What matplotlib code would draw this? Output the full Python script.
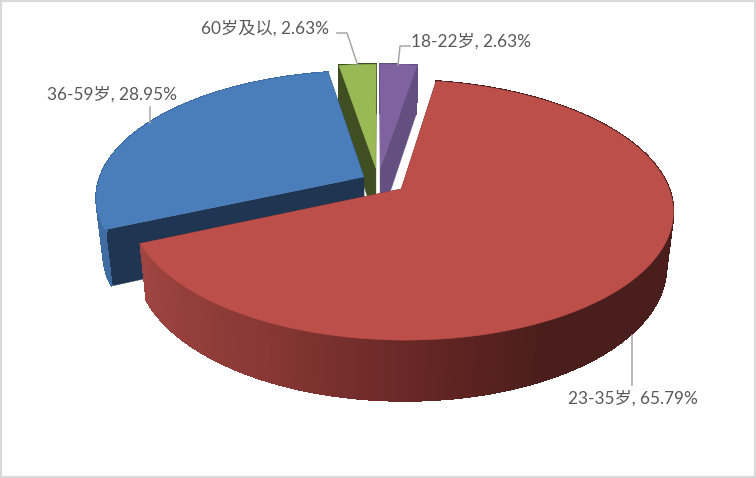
import numpy as np
import matplotlib
matplotlib.use("Agg")
import matplotlib.pyplot as plt
from matplotlib.colors import to_rgb

### Data -----------------------------------------------------------------------

categories = ["18-22岁", "23-35岁", "36-59岁", "60岁及以"]
shares = [2.63, 65.79, 28.95, 2.63]

### Style / layout -------------------------------------------------------------

explode = [0.103, 0.11, 0.061, 0.103]
top_colors = ["#7F63A1", "#BC4F4A", "#4A7EBB", "#98B954"]
cut_colors = ["#634F80", "#4A1E1C", "#203552", "#3F4F22"]
# wall colour stops per wedge: angle (deg clockwise from top), colour
wall_stops = [
    ([0, 360], ["#634F80", "#634F80"]),
    ([0, 154, 174, 207, 250], ["#4A1E1C", "#4A1E1C", "#622523", "#883835", "#A24743"]),
    ([0, 360], ["#3F6CA3", "#3F6CA3"]),
    ([0, 360], ["#3F4F22", "#3F4F22"]),
]
draw_order = [0, 3, 2, 1]

cx, cy = 378, 180.5  # screen position of the pie centre
radius_x, radius_y = 265, 124
persp_y, persp_z = 0.16, 0.024
thickness = 55.5

label_pos = [(411, 41), (568, 398), (47, 94), (201, 28)]
leaders = [
    ([410, 400, 398], [46, 46, 65]),
    ([632, 632], [385, 335]),
    ([150, 150], [107, 123]),
    ([337, 347, 358], [33, 33, 66]),
]
text_color = "#595959"
leader_color = "#A6A6A6"
border_color = "#D9D9D9"

plt.rcParams["font.family"] = ["Lato", "Noto Sans CJK SC", "DejaVu Sans"]


def project(ang, r, ex, ey, d):
    # ang in degrees clockwise from the top, d = 0 on top face, 1 on bottom
    a = np.radians(ang)
    X = ex + r * np.sin(a)
    Y = ey + r * np.cos(a)
    s = 1 / (1 + persp_y * Y + persp_z * d)
    return cx + radius_x * X * s, cy - radius_y * Y * s + thickness * d * s


def wall_color(i, ang):
    stops, cols = wall_stops[i]
    rgb = np.array([to_rgb(c) for c in cols])
    return [np.interp(ang, stops, rgb[:, k]) for k in range(3)]


### Plot -----------------------------------------------------------------------

fig = plt.figure(figsize=(7.56, 4.78), dpi=100)
ax = fig.add_axes([0, 0, 1, 1])
ax.set_xlim(0, 756)
ax.set_ylim(478, 0)
ax.axis("off")

edges = np.concatenate([[0], np.cumsum(shares)]) / np.sum(shares) * 360

for i in draw_order:
    a0, a1 = edges[i], edges[i + 1]
    mid = np.radians((a0 + a1) / 2)
    ex, ey = explode[i] * np.sin(mid), explode[i] * np.cos(mid)

    # the two cut faces
    for b in (a0, a1):
        px, py = project(np.array([0.0, b, b, 0.0]), np.array([0, 1, 1, 0]), ex, ey,
                         np.array([0, 0, 1, 1]))
        ax.fill(px, py, color=cut_colors[i], lw=0.3, zorder=1)

    # outer wall, in small strips so the shade can change with the angle
    steps = np.linspace(a0, a1, int((a1 - a0) * 2) + 2)
    for b0, b1 in zip(steps[:-1], steps[1:]):
        tx, ty = project(np.array([b0, b1]), 1, ex, ey, 0)
        bx, by = project(np.array([b1, b0]), 1, ex, ey, 1)
        col = wall_color(i, (b0 + b1) / 2)
        ax.fill(np.r_[tx, bx], np.r_[ty, by], color=col, lw=0.8, antialiased=False, zorder=1)

    # top face
    arc = np.linspace(a0, a1, 200)
    ax_, ay_ = project(arc, 1, ex, ey, 0)
    ox, oy = project(0.0, 0, ex, ey, 0)
    ax.fill(np.r_[ox, ax_], np.r_[oy, ay_], color=top_colors[i], lw=0.3, zorder=1)

for i, cat in enumerate(categories):
    ax.plot(leaders[i][0], leaders[i][1], color=leader_color, lw=1.1, zorder=2)
    ax.text(label_pos[i][0], label_pos[i][1], f"{cat}, {shares[i]:.2f}%", color=text_color,
            fontsize=12.4, ha="left", va="center", zorder=3)

ax.add_patch(plt.Rectangle((1, 1), 754, 476, fill=False, ec=border_color, lw=1.6, zorder=4))

fig.savefig("out.png", dpi=100)
